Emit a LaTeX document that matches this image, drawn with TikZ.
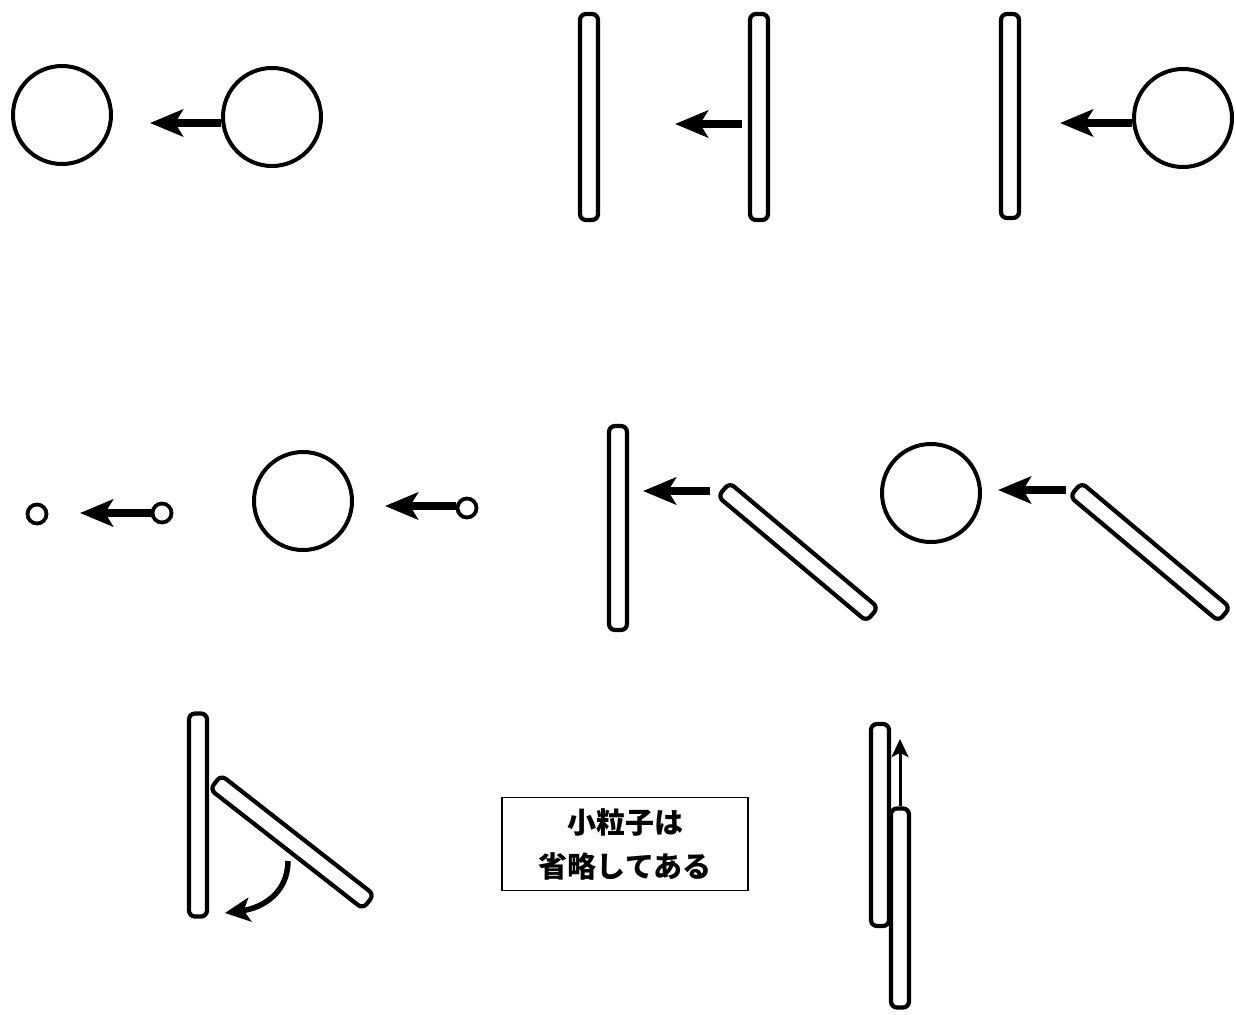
\documentclass[tikz,border=0pt]{standalone}
\usepackage{fontspec}
\newfontfamily\cjk{Noto Sans CJK JP}
\usetikzlibrary{arrows.meta}
\begin{document}
\begin{tikzpicture}[x=1pt,y=-1pt,
  ball/.style={circle,draw,line width=4pt,fill=white,minimum size=98pt,inner sep=0pt},
  bead/.style={circle,draw,line width=3.8pt,fill=white,minimum size=19pt,inner sep=0pt},
  vrod/.style={rectangle,draw,line width=4.2pt,fill=white,rounded corners=6pt,minimum width=18pt,minimum height=#1,inner sep=0pt},
  drod/.style={rectangle,draw,line width=4.2pt,fill=white,rounded corners=6pt,minimum width=194pt,minimum height=18pt,inner sep=0pt,rotate=#1},
  push/.style={line width=8.5pt,-{Stealth[length=33pt,width=27pt,inset=8pt]}},
  turn/.style={line width=5.5pt,-{Stealth[length=25pt,width=24pt,inset=6pt]}},
  slide/.style={line width=3pt,-{Stealth[length=18pt,width=17pt,inset=4pt]}},
  note/.style={draw,line width=1.2pt,minimum width=246pt,minimum height=93pt,align=center,font=\cjk\bfseries\fontsize{29}{44}\selectfont}
]
\useasboundingbox (0,0) rectangle (1236,1014);

% row 1
\node[ball] (c1) at (62,115) {};
\node[ball] (c2) at (272,117) {};
\draw[push] (c2.west |- 0,123) -- (150,123) coordinate (t1);

\node[vrod=206pt] (r1) at (589,117) {};
\node[vrod=206pt] (r2) at (759,117) {};
\draw[push] (742,124) coordinate (s2) -- (675,124) coordinate (t2);

\node[vrod=204pt] (r3) at (1010,116) {};
\node[ball] (c3) at (1183,118) {};
\draw[push] (c3.west |- 0,123) -- (1060,123) coordinate (t3);

% row 2
\node[bead] (b1) at (37,514) {};
\node[bead] (b2) at (162,513) {};
\draw[push] (b2.west |- 0,513) -- (80,513) coordinate (t4);

\node[ball] (c4) at (303,501) {};
\node[bead] (b3) at (467,508) {};
\draw[push] (b3.west |- 0,506) -- (385,506) coordinate (t5);

\node[vrod=204pt] (r4) at (618,528) {};
\node[drod=-40] (d1) at (798,552) {};
\draw[push] (710,491) coordinate (s6) -- (643,491) coordinate (t6);

\node[ball] (c5) at (931,493) {};
\node[drod=-40] (d2) at (1150,552) {};
\draw[push] (1066,490) coordinate (s7) -- (998,490) coordinate (t7);

% row 3
\node[vrod=203pt] (r5) at (198,815) {};
\node[drod=-38] (d3) at (292,842) {};
\draw[turn] (288,861) coordinate (s8) .. controls (288,893) and (262,908) .. (225,913) coordinate (t8);

\node[note] (n) at (625,844) {小粒子は\\省略してある};

\node[vrod=202pt] (r6) at (880,825) {};
\node[vrod=199pt] (r7) at (900,908) {};
\draw[slide] (r7.north |- 0,806) -- (900,739) coordinate (t9);
\end{tikzpicture}
\end{document}
